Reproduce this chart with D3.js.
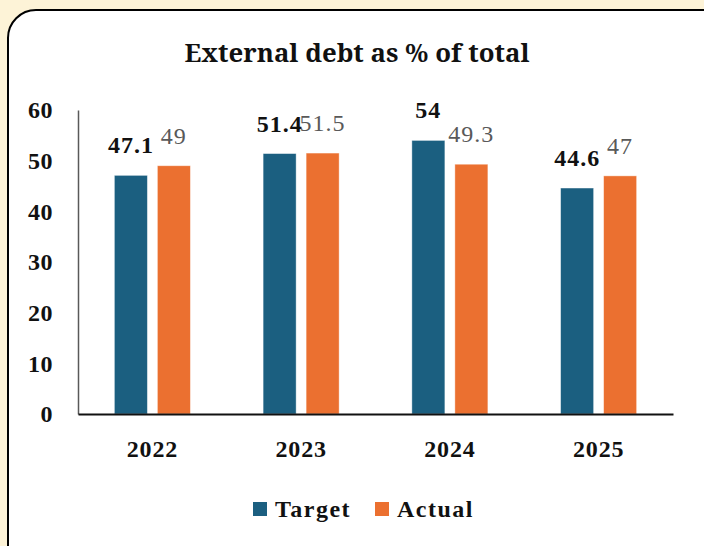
<!DOCTYPE html>
<html>
<head>
<meta charset="utf-8">
<script src="https://cdn.jsdelivr.net/npm/d3@7"></script>
<style>
  html, body { margin: 0; padding: 0; background: #fdf3d7; }
  svg { display: block; }
</style>
</head>
<body>
<div id="chart"></div>
<script>
// data
const years = ["2022", "2023", "2024", "2025"];
const series = ["Target", "Actual"];
const target = [47.1, 51.4, 54, 44.6];
const actual = [49, 51.5, 49.3, 47];
const yTicks = [0, 10, 20, 30, 40, 50, 60];

const width = 704;
const height = 546;
// Liberation Serif turns into a sans face above ~24px here, so big text uses Noto Serif
const font = "'Liberation Serif', serif";
const titleFont = "'Noto Serif', 'DejaVu Serif', serif";
const colors = { Target: "#1b5f80", Actual: "#eb7030" };

const svg = d3.select("#chart")
    .append("svg")
    .attr("width", width)
    .attr("height", height);

// panel
svg.append("rect")
    .attr("x", 8)
    .attr("y", 10)
    .attr("width", 730)
    .attr("height", 570)
    .attr("rx", 28)
    .attr("fill", "#ffffff")
    .attr("stroke", "#000000")
    .attr("stroke-width", 2);

svg.append("text")
    .attr("x", 357)
    .attr("y", 62)
    .attr("text-anchor", "middle")
    .attr("textLength", 345)
    .attr("lengthAdjust", "spacingAndGlyphs")
    .style("font-family", titleFont)
    .style("font-weight", "bold")
    .style("font-size", "26px")
    .attr("fill", "#111")
    .text("External debt as % of total");

const x0 = d3.scaleBand()
    .domain(years)
    .range([78, 673])
    .paddingInner(0.489)
    .paddingOuter(0.2445);

const x1 = d3.scaleBand()
    .domain(series)
    .range([0, x0.bandwidth()])
    .paddingInner(0.2326);

const y = d3.scaleLinear()
    .domain([0, 60])
    .range([414, 110]);

const rows = years.map((yr, i) => ({ year: yr, Target: target[i], Actual: actual[i] }));

// y axis
const yAxis = svg.append("g")
    .attr("transform", "translate(78,0)")
    .call(d3.axisLeft(y).tickValues(yTicks).tickSize(0).tickPadding(25));
yAxis.select(".domain").attr("stroke", "#595959").attr("stroke-width", 1.5);
yAxis.selectAll("text")
    .style("font-family", font)
    .style("font-weight", "bold")
    .style("font-size", "24px")
    .style("letter-spacing", "0.5px")
    .attr("fill", "#111");

// bars
const groups = svg.selectAll(".yr")
    .data(rows)
    .enter()
    .append("g")
    .attr("class", "yr")
    .attr("transform", d => `translate(${x0(d.year)},0)`);

groups.selectAll("rect")
    .data(d => series.map(s => ({ key: s, value: d[s] })))
    .enter()
    .append("rect")
    .attr("x", d => x1(d.key))
    .attr("y", d => y(d.value))
    .attr("width", x1.bandwidth())
    .attr("height", d => y(0) - y(d.value))
    .attr("fill", d => colors[d.key])
    .attr("stroke", "#ffffff")
    .attr("stroke-opacity", 0.5)
    .attr("stroke-width", 0.8);

groups.selectAll(".lbl")
    .data(d => series.map(s => ({ key: s, value: d[s] })))
    .enter()
    .append("text")
    .attr("class", "lbl")
    .attr("x", d => x1(d.key) + x1.bandwidth() / 2)
    .attr("y", d => y(d.value) - 22)
    .attr("text-anchor", "middle")
    .style("font-family", font)
    .style("font-weight", d => d.key === "Target" ? "bold" : "normal")
    .style("font-size", "24px")
    .style("letter-spacing", "1px")
    .attr("fill", d => d.key === "Target" ? "#111" : "#595959")
    .text(d => d.value);

// x axis
const xAxis = svg.append("g")
    .attr("transform", "translate(0,414)")
    .call(d3.axisBottom(x0).tickSize(0).tickPadding(26).tickSizeOuter(0));
xAxis.select(".domain").attr("stroke", "#111").attr("stroke-width", 2);
xAxis.selectAll("text")
    .style("font-family", font)
    .style("font-weight", "bold")
    .style("font-size", "24px")
    .style("letter-spacing", "0.8px")
    .attr("fill", "#111");

// legend
const legendX = [253, 375];
const legend = svg.selectAll(".leg")
    .data(series)
    .enter()
    .append("g")
    .attr("class", "leg")
    .attr("transform", (d, i) => `translate(${legendX[i]},502)`);

legend.append("rect")
    .attr("width", 14)
    .attr("height", 14)
    .attr("fill", d => colors[d]);

legend.append("text")
    .attr("x", 22)
    .attr("y", 15)
    .style("font-family", font)
    .style("font-weight", "bold")
    .style("font-size", "24px")
    .style("letter-spacing", "1.5px")
    .attr("fill", "#111")
    .text(d => d);
</script>
</body>
</html>
